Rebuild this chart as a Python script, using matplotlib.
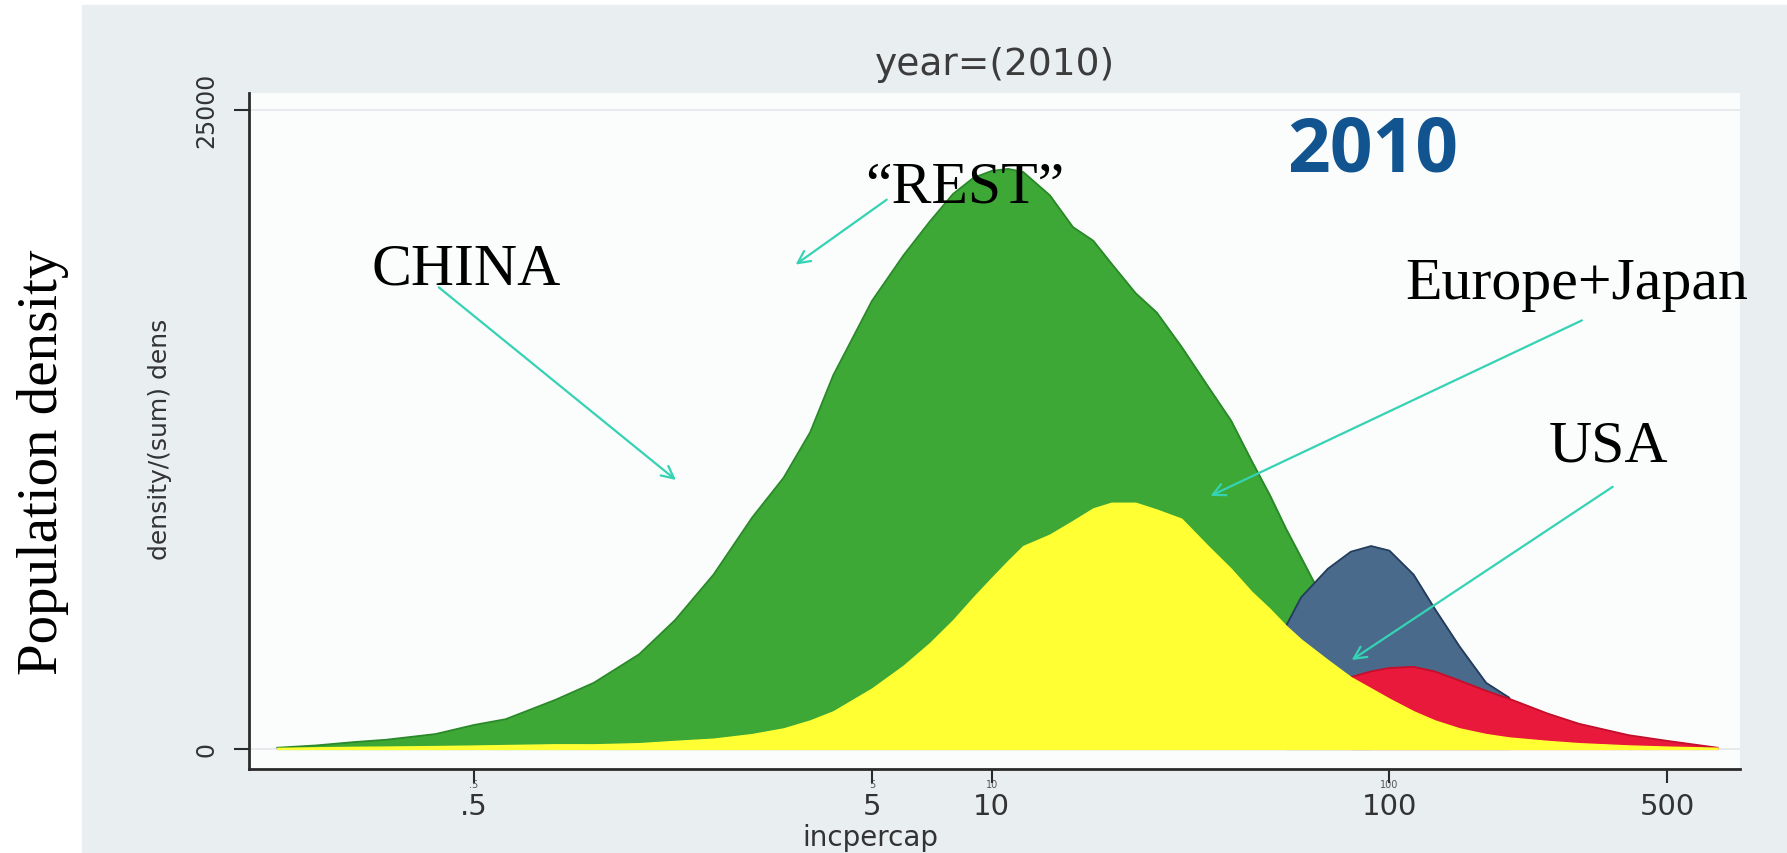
import numpy as np
import matplotlib
matplotlib.use("Agg")
import matplotlib.pyplot as plt
from matplotlib.patches import Rectangle
import matplotlib.transforms as mtransforms

# income per capita grid (log axis) and stacked density tops
incpercap = [0.16, 0.2, 0.25, 0.3, 0.4, 0.5, 0.6, 0.8, 1.0, 1.3,
             1.6, 2.0, 2.5, 3.0, 3.5, 4.0, 5, 6, 7, 8,
             9, 10, 11, 12, 14, 16, 18, 20, 23, 26,
             30, 35, 40, 45, 50, 55, 60, 70, 80, 90,
             100, 115, 130, 150, 175, 200, 250, 300, 400, 500, 668]

rest_top = [45, 134, 267, 356, 580, 936, 1160, 1916, 2585, 3700,
            5035, 6818, 9046, 10605, 12388, 14616, 17512, 19294, 20631, 21700,
            22330, 22600, 22680, 22560, 21650, 20408, 19874, 18980, 17824, 17066,
            15730, 14170, 12833, 11274, 9937, 8600, 7486, 5481, 3698, 2362,
            None, None, None, None, None, None, None, None, None, None, None]

europe_top = [None] * 35 + [4812, 5926, 7040, 7709, 7932,
              7753, 6818, 5481, 4010, 2585, 2005, None, None, None, None, None]

usa_top = [None] * 38 + [2807, 3030,
           3164, 3208, 3030, 2674, 2273, 1961, 1381, 980, 535, 312, 45]

china_top = [40, 60, 80, 90, 110, 130, 150, 180, 178, 223,
             312, 400, 580, 802, 1114, 1470, 2360, 3250, 4144, 5035,
             5926, 6684, 7352, 7932, 8377, 8912, 9402, 9625, 9625, 9358,
             9001, 7932, 7040, 6149, 5481, 4812, 4278, 3476, 2807, 2362,
             1961, 1470, 1114, 802, 579, 446, 312, 223, 134, 89, 45]

xticks = [0.5, 5, 10, 100, 500]
xtick_labels = [".5", "5", "10", "100", "500"]
yticks = [0, 25000]
ytick_labels = ["0", "25000"]


def arr(vals):
    return np.array([np.nan if v is None else v for v in vals], dtype=float)


x = np.array(incpercap)

fig = plt.figure(figsize=(17.87, 8.54), dpi=100)
fig.patch.set_facecolor("white")
fig.add_artist(Rectangle((82 / 1787, 0), 1 - 82 / 1787, 1 - 6 / 854,
                         transform=fig.transFigure, color="#e9eef1", zorder=0))

ax = fig.add_axes([0.1391, 0.0979, 0.8348, 0.7926])
ax.set_facecolor("#fbfcfc")
ax.set_xscale("log")
ax.set_xlim(0.1355, 763)
ax.set_ylim(-802, 25667)

for yy in yticks:
    ax.axhline(yy, color="#e4e8ea", lw=1.2, zorder=0)

# painted back to front, each from zero
layers = [
    (rest_top, "#3ea836", "#2a8a2a"),
    (europe_top, "#4a6a8c", "#243d5c"),
    (usa_top, "#e8193b", "#c40f2c"),
    (china_top, "#ffff33", None),
]
for vals, fc, ec in layers:
    y = arr(vals)
    ax.fill_between(x, 0, y, facecolor=fc, edgecolor=fc, lw=1.0, zorder=2)
    if ec:
        ax.plot(x, y, color=ec, lw=1.3, zorder=2)

for s in ["top", "right"]:
    ax.spines[s].set_visible(False)
for s in ["left", "bottom"]:
    ax.spines[s].set_color("#2b2b2b")
    ax.spines[s].set_linewidth(2)

ax.set_xticks(xticks)
ax.set_xticklabels(xtick_labels)
ax.xaxis.set_minor_locator(matplotlib.ticker.NullLocator())
ax.set_yticks(yticks)
ax.set_yticklabels(ytick_labels, rotation=90, va="center")
ax.tick_params(axis="x", length=10, width=1.5, color="#2b2b2b", pad=6,
               labelsize=21, labelcolor="#333333")
ax.tick_params(axis="y", length=11, width=1.5, color="#2b2b2b", pad=11,
               labelsize=17, labelcolor="#333333")

# faint small duplicate tick labels from the source image
trans = mtransforms.blended_transform_factory(ax.transData, ax.transAxes)
for v, lab in zip(xticks[:4], xtick_labels[:4]):
    ax.text(v, -0.022, lab, transform=trans, ha="center", va="center",
            fontsize=7, color="#555555", zorder=1)

fig.text(0.557, 0.924, "year=(2010)", ha="center", va="center",
         fontsize=27, color="#3c3c3c")
fig.text(0.487, 0.009, "incpercap", ha="center", va="baseline",
         fontsize=20, color="#333333")
fig.text(0.0895, 0.486, "density/(sum) dens", ha="center", va="center",
         rotation=90, fontsize=18, color="#333333")
fig.text(0.024, 0.459, "Population density", ha="center", va="center",
         rotation=90, fontsize=41, family="Liberation Serif", color="black")

# overlay annotations
serif = dict(family="Liberation Serif", fontsize=43, color="black",
             ha="center", va="baseline", zorder=5)
ax.text(0.4775, 18180, "CHINA", **serif)
ax.text(8.54, 21389, "\u201cREST\u201d", **serif)
ax.text(295, 17646, "Europe+Japan", **serif)
ax.text(355, 11274, "USA", **serif)
ax.text(90.6, 22636, "2010", family="Open Sans", fontweight="bold",
        fontsize=54, color="#11548f", ha="center", va="baseline", zorder=5)

arrows = [
    ((0.4076, 18047), (1.608, 10516)),
    ((5.45, 21478), (3.216, 18938)),
    ((304.8, 16755), (35.5, 9892)),
    ((364.4, 10249), (80.4, 3476)),
]
for start, end in arrows:
    ax.annotate("", xy=end, xytext=start,
                arrowprops=dict(arrowstyle="->", color="#35d3b4", lw=1.6,
                                mutation_scale=22, shrinkA=0, shrinkB=0),
                zorder=5)

fig.savefig("out.png", dpi=100)
